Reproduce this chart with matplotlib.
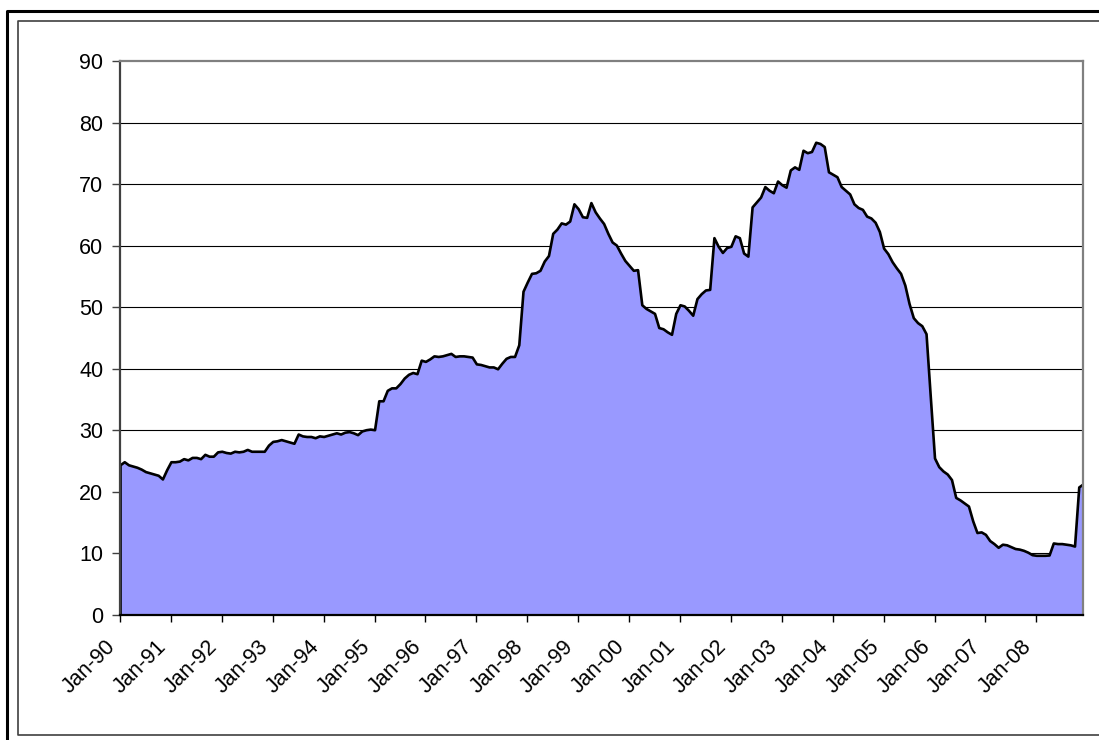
import matplotlib
matplotlib.use("Agg")
import matplotlib.pyplot as plt
import matplotlib.transforms as mtransforms
from matplotlib.lines import Line2D

plt.rcParams["font.family"] = ["Liberation Sans", "DejaVu Sans"]

# monthly values, Jan-1990 .. Dec-2008
values = [
    # 1990
    24.4, 24.9, 24.4, 24.2, 24.0, 23.7, 23.3, 23.1, 22.9, 22.7, 22.1, 23.6,
    # 1991
    24.9, 24.9, 25.0, 25.4, 25.2, 25.6, 25.6, 25.4, 26.1, 25.8, 25.8, 26.5,
    # 1992
    26.6, 26.4, 26.3, 26.6, 26.5, 26.6, 26.9, 26.6, 26.6, 26.6, 26.6, 27.6,
    # 1993
    28.2, 28.3, 28.5, 28.3, 28.1, 27.9, 29.4, 29.1, 29.0, 29.0, 28.8, 29.1,
    # 1994
    29.0, 29.2, 29.4, 29.6, 29.4, 29.7, 29.8, 29.6, 29.3, 29.9, 30.1, 30.2,
    # 1995
    30.1, 34.8, 34.8, 36.5, 36.9, 36.9, 37.6, 38.5, 39.1, 39.4, 39.2, 41.4,
    # 1996
    41.2, 41.6, 42.1, 42.0, 42.1, 42.3, 42.5, 42.0, 42.1, 42.1, 42.0, 41.9,
    # 1997
    40.8, 40.7, 40.5, 40.3, 40.3, 40.0, 40.9, 41.7, 42.0, 42.0, 43.9, 52.6,
    # 1998
    54.1, 55.5, 55.6, 56.0, 57.5, 58.4, 62.0, 62.7, 63.7, 63.5, 64.0, 66.8,
    # 1999
    66.0, 64.7, 64.6, 67.0, 65.5, 64.5, 63.6, 62.0, 60.6, 60.1, 58.8, 57.6,
    # 2000
    56.8, 56.0, 56.1, 50.4, 49.8, 49.4, 49.0, 46.7, 46.5, 46.0, 45.6, 49.0,
    # 2001
    50.4, 50.2, 49.5, 48.7, 51.4, 52.2, 52.8, 52.9, 61.3, 59.9, 58.9, 59.7,
    # 2002
    59.9, 61.6, 61.3, 58.8, 58.3, 66.3, 67.1, 67.9, 69.6, 69.0, 68.6, 70.5,
    # 2003
    69.9, 69.5, 72.3, 72.8, 72.4, 75.5, 75.1, 75.3, 76.8, 76.6, 76.1, 72.0,
    # 2004
    71.6, 71.2, 69.6, 69.0, 68.4, 66.8, 66.2, 65.9, 64.8, 64.5, 63.8, 62.3,
    # 2005
    59.6, 58.7, 57.4, 56.4, 55.5, 53.6, 50.6, 48.3, 47.5, 47.0, 45.7, 35.5,
    # 2006
    25.5, 24.1, 23.4, 22.9, 22.0, 19.1, 18.7, 18.2, 17.7, 15.3, 13.4, 13.5,
    # 2007
    13.1, 12.1, 11.6, 11.0, 11.5, 11.4, 11.1, 10.8, 10.7, 10.5, 10.2, 9.8,
    # 2008
    9.7, 9.7, 9.7, 9.75, 11.7, 11.6, 11.6, 11.5, 11.4, 11.2, 20.8, 21.3,
]
years = list(range(1990, 2009))
tick_labels = [f"Jan-{y % 100:02d}" for y in years]
y_ticks = [0, 10, 20, 30, 40, 50, 60, 70, 80, 90]

W, H = 1099, 740
fig = plt.figure(figsize=(W / 100, H / 100), dpi=100)
fig.patch.set_facecolor("white")

# plot area in pixels: left 120, right 1083, top 61, bottom 615
ax = fig.add_axes([120 / W, (H - 615) / H, 963 / W, 554 / H])

x = list(range(len(values)))
for v in y_ticks[1:-1]:
    ax.axhline(v, color="black", linewidth=0.8, zorder=0.5)
ax.fill_between(x, values, 0, facecolor="#9999FF", edgecolor="black",
                linewidth=1.9, zorder=2)

ax.set_xlim(0, len(values) - 1)
ax.set_ylim(0, 90)
ax.set_yticks(y_ticks)
ax.set_xticks([12 * i for i in range(len(years))])
ax.set_xticklabels(tick_labels, rotation=45, ha="right", va="top",
                   rotation_mode="anchor")

ax.tick_params(axis="y", direction="out", length=5.5, width=1.0,
               color="#404040", labelsize=15.5, pad=6.5)
ax.tick_params(axis="x", direction="out", length=5, width=1.0,
               color="black", labelsize=15.5, pad=10)

offset = mtransforms.ScaledTranslation(-0.15, 0, fig.dpi_scale_trans)
for lab in ax.get_xticklabels():
    lab.set_transform(lab.get_transform() + offset)

for side in ("top", "right"):
    ax.spines[side].set_color("#808080")
    ax.spines[side].set_linewidth(1.6)
ax.spines["left"].set_color("#404040")
ax.spines["left"].set_linewidth(1.6)
ax.spines["bottom"].set_color("black")
ax.spines["bottom"].set_linewidth(1.6)


# outer frame (thick black) and chart-area border (thin dark gray)
def px(xp, yp):
    return xp / W, 1 - yp / H


ox, oy = zip(px(7, H + 5), px(7, 11), px(W + 5, 11))
fig.add_artist(Line2D(ox, oy, color="black", linewidth=2.2,
                      transform=fig.transFigure))
ix, iy = zip(px(W + 5, 21), px(18, 21), px(18, 735), px(W + 5, 735))
fig.add_artist(Line2D(ix, iy, color="#404040", linewidth=1.2,
                      transform=fig.transFigure))

fig.savefig("out.png", dpi=100)
